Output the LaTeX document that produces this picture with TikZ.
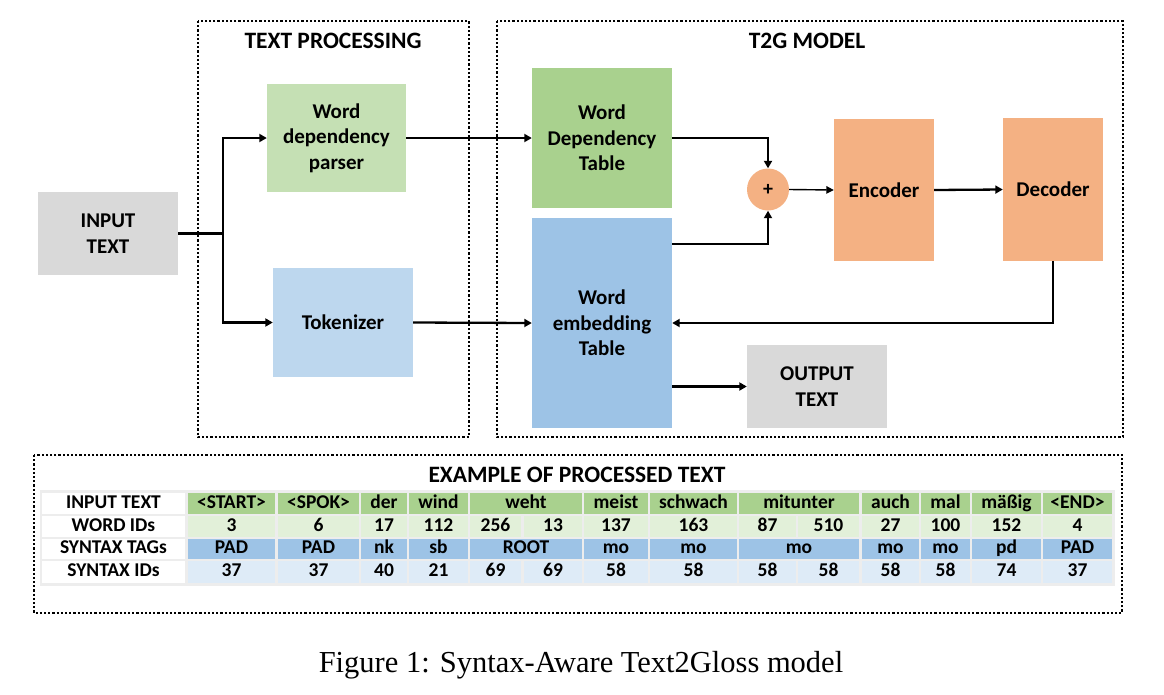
\documentclass[tikz,border=0pt]{standalone}
\usepackage{fontspec}
\setmainfont{Carlito}
\newfontfamily\capfont{Liberation Serif}
\usetikzlibrary{arrows.meta,calc}
\definecolor{gbox}{HTML}{D9D9D9}
\definecolor{lgreen}{HTML}{C5E0B4}
\definecolor{lblue}{HTML}{BDD7EE}
\definecolor{mgreen}{HTML}{A9D18E}
\definecolor{mblue}{HTML}{9DC3E6}
\definecolor{orng}{HTML}{F4B183}
\definecolor{rowA}{HTML}{A9D18E}
\definecolor{rowB}{HTML}{E2F0D9}
\definecolor{rowC}{HTML}{9DC3E6}
\definecolor{rowD}{HTML}{DEEBF7}
\definecolor{tbg}{HTML}{EDEDED}
\newcommand\tc[7]{\node[cellt, fill=#6, minimum width={(#3-#2)*1pt}, minimum height={(#5-#4)*1pt}] (#1) at ({(#2+#3)/2},{(#4+#5)/2}) {#7};}
\begin{document}
\begin{tikzpicture}[x=1pt,y=-1pt,
 blk/.style={rectangle, inner sep=0pt, align=center, font=\fontsize{21}{25.5}\selectfont\bfseries},
 arr/.style={line width=2.3pt, -{Triangle[length=7.5pt,width=8pt]}},
 thinarr/.style={line width=1.4pt, -{Triangle[length=7.5pt,width=7.5pt]}},
 ln/.style={line width=2.3pt},
 frame/.style={line width=2.8pt, dash pattern=on 2.2pt off 2pt},
 ttl/.style={anchor=base, inner sep=0pt, font=\fontsize{23.5}{26}\selectfont\bfseries},
 cellt/.style={rectangle, inner sep=0pt, text height=13pt, text depth=3.5pt, font=\fontsize{19.5}{20}\selectfont\bfseries},
]
\useasboundingbox (0,0) rectangle (1164,694);

% frames
\draw[frame] (198,21) rectangle (469,437);
\draw[frame] (497,21) rectangle (1123,437);
\draw[frame] (34,455) rectangle (1122,613);
\node[ttl] (ttp) at (333,48) {TEXT PROCESSING};
\node[ttl] (tt2g) at (807,48) {T2G MODEL};
\node[ttl] (tex) at (577,482) {EXAMPLE OF PROCESSED TEXT};

% blocks
\node[blk, fill=gbox, minimum width=140pt, minimum height=83pt] (inp) at (108,233.5) {INPUT\\TEXT};
\node[blk, fill=lgreen, minimum width=139pt, minimum height=108pt] (parser) at (336.5,138) {Word\\dependency\\parser};
\node[blk, fill=lblue, minimum width=140pt, minimum height=109pt] (tok) at (343,322.5) {Tokenizer};
\node[blk, fill=mgreen, minimum width=140pt, minimum height=140pt] (wdt) at (602,138) {Word\\Dependency\\Table};
\node[blk, fill=mblue, minimum width=140pt, minimum height=210pt] (wet) at (602,323) {Word\\embedding\\Table};
\node[blk, fill=orng, circle, minimum size=42pt, font=\fontsize{20}{20}\selectfont\bfseries] (plus) at (768,189.5) {+};
\node[blk, fill=orng, minimum width=100pt, minimum height=142pt] (enc) at (884,190) {Encoder};
\node[blk, fill=orng, minimum width=100pt, minimum height=143pt] (dec) at (1053,189.5) {Decoder};
\node[blk, fill=gbox, minimum width=140pt, minimum height=83pt] (out) at (817,386.5) {OUTPUT\\TEXT};

% connectors
\coordinate (J) at (223,233.5);
\draw[ln] (inp.east) -- (J);
\draw[arr] (J) |- (parser.west);
\draw[arr] (J) |- (tok.west);
\draw[arr] (parser.east) -- (wdt.west);
\draw[arr] (tok.east) -- (wet.west);
\draw[arr] (wdt.east) -| (plus.north);
\draw[arr] ([yshift=-26pt]wet.north east) -| (plus.south);
\draw[thinarr] (plus.east) -- (enc.west);
\draw[arr] (enc.east) -- (dec.west);
\draw[arr] (dec.south) |- (wet.east);
\draw[arr] (wet.east |- out.west) -- (out.west);

% table
\fill[tbg] (40,490) rectangle (1115,586);
% row 1
\tc{l1}{42}{185}{493}{514}{white}{INPUT TEXT}
\tc{a1}{188}{275}{493}{514}{rowA}{<START>}
\tc{a2}{278}{359}{493}{514}{rowA}{<SPOK>}
\tc{a3}{361}{407}{493}{514}{rowA}{der}
\tc{a4}{409}{468}{493}{514}{rowA}{wind}
\tc{a5}{470}{582}{493}{514}{rowA}{weht}
\tc{a6}{584}{648}{493}{514}{rowA}{meist}
\tc{a7}{650}{737}{493}{514}{rowA}{schwach}
\tc{a8}{739}{859}{493}{514}{rowA}{mitunter}
\tc{a9}{862}{919}{493}{514}{rowA}{auch}
\tc{a10}{921}{970}{493}{514}{rowA}{mal}
\tc{a11}{972}{1041}{493}{514}{rowA}{mäßig}
\tc{a12}{1043}{1112}{493}{514}{rowA}{<END>}
% row 2
\tc{l2}{42}{185}{516}{537}{white}{WORD IDs}
\tc{b1}{188}{275}{516}{537}{rowB}{3}
\tc{b2}{278}{359}{516}{537}{rowB}{6}
\tc{b3}{361}{407}{516}{537}{rowB}{17}
\tc{b4}{409}{468}{516}{537}{rowB}{112}
\tc{b5a}{470}{521}{516}{537}{rowB}{256}
\tc{b5b}{524}{582}{516}{537}{rowB}{13}
\tc{b6}{584}{648}{516}{537}{rowB}{137}
\tc{b7}{650}{737}{516}{537}{rowB}{163}
\tc{b8a}{739}{796}{516}{537}{rowB}{87}
\tc{b8b}{798}{859}{516}{537}{rowB}{510}
\tc{b9}{862}{919}{516}{537}{rowB}{27}
\tc{b10}{921}{970}{516}{537}{rowB}{100}
\tc{b11}{972}{1041}{516}{537}{rowB}{152}
\tc{b12}{1043}{1112}{516}{537}{rowB}{4}
% row 3
\tc{l3}{42}{185}{539}{559}{white}{SYNTAX TAGs}
\tc{c1}{188}{275}{539}{559}{rowC}{PAD}
\tc{c2}{278}{359}{539}{559}{rowC}{PAD}
\tc{c3}{361}{407}{539}{559}{rowC}{nk}
\tc{c4}{409}{468}{539}{559}{rowC}{sb}
\tc{c5}{470}{582}{539}{559}{rowC}{ROOT}
\tc{c6}{584}{648}{539}{559}{rowC}{mo}
\tc{c7}{650}{737}{539}{559}{rowC}{mo}
\tc{c8}{739}{859}{539}{559}{rowC}{mo}
\tc{c9}{862}{919}{539}{559}{rowC}{mo}
\tc{c10}{921}{970}{539}{559}{rowC}{mo}
\tc{c11}{972}{1041}{539}{559}{rowC}{pd}
\tc{c12}{1043}{1112}{539}{559}{rowC}{PAD}
% row 4
\tc{l4}{42}{185}{561}{583}{white}{SYNTAX IDs}
\tc{d1}{188}{275}{561}{583}{rowD}{37}
\tc{d2}{278}{359}{561}{583}{rowD}{37}
\tc{d3}{361}{407}{561}{583}{rowD}{40}
\tc{d4}{409}{468}{561}{583}{rowD}{21}
\tc{d5a}{470}{521}{561}{583}{rowD}{69}
\tc{d5b}{524}{582}{561}{583}{rowD}{69}
\tc{d6}{584}{648}{561}{583}{rowD}{58}
\tc{d7}{650}{737}{561}{583}{rowD}{58}
\tc{d8a}{739}{796}{561}{583}{rowD}{58}
\tc{d8b}{798}{859}{561}{583}{rowD}{58}
\tc{d9}{862}{919}{561}{583}{rowD}{58}
\tc{d10}{921}{970}{561}{583}{rowD}{58}
\tc{d11}{972}{1041}{561}{583}{rowD}{74}
\tc{d12}{1043}{1112}{561}{583}{rowD}{37}

% caption
\node[anchor=base, inner sep=0pt, font=\capfont\fontsize{30.5}{34}\selectfont] (cap) at (581,672) {Figure 1: Syntax-Aware Text2Gloss model};
\end{tikzpicture}
\end{document}
